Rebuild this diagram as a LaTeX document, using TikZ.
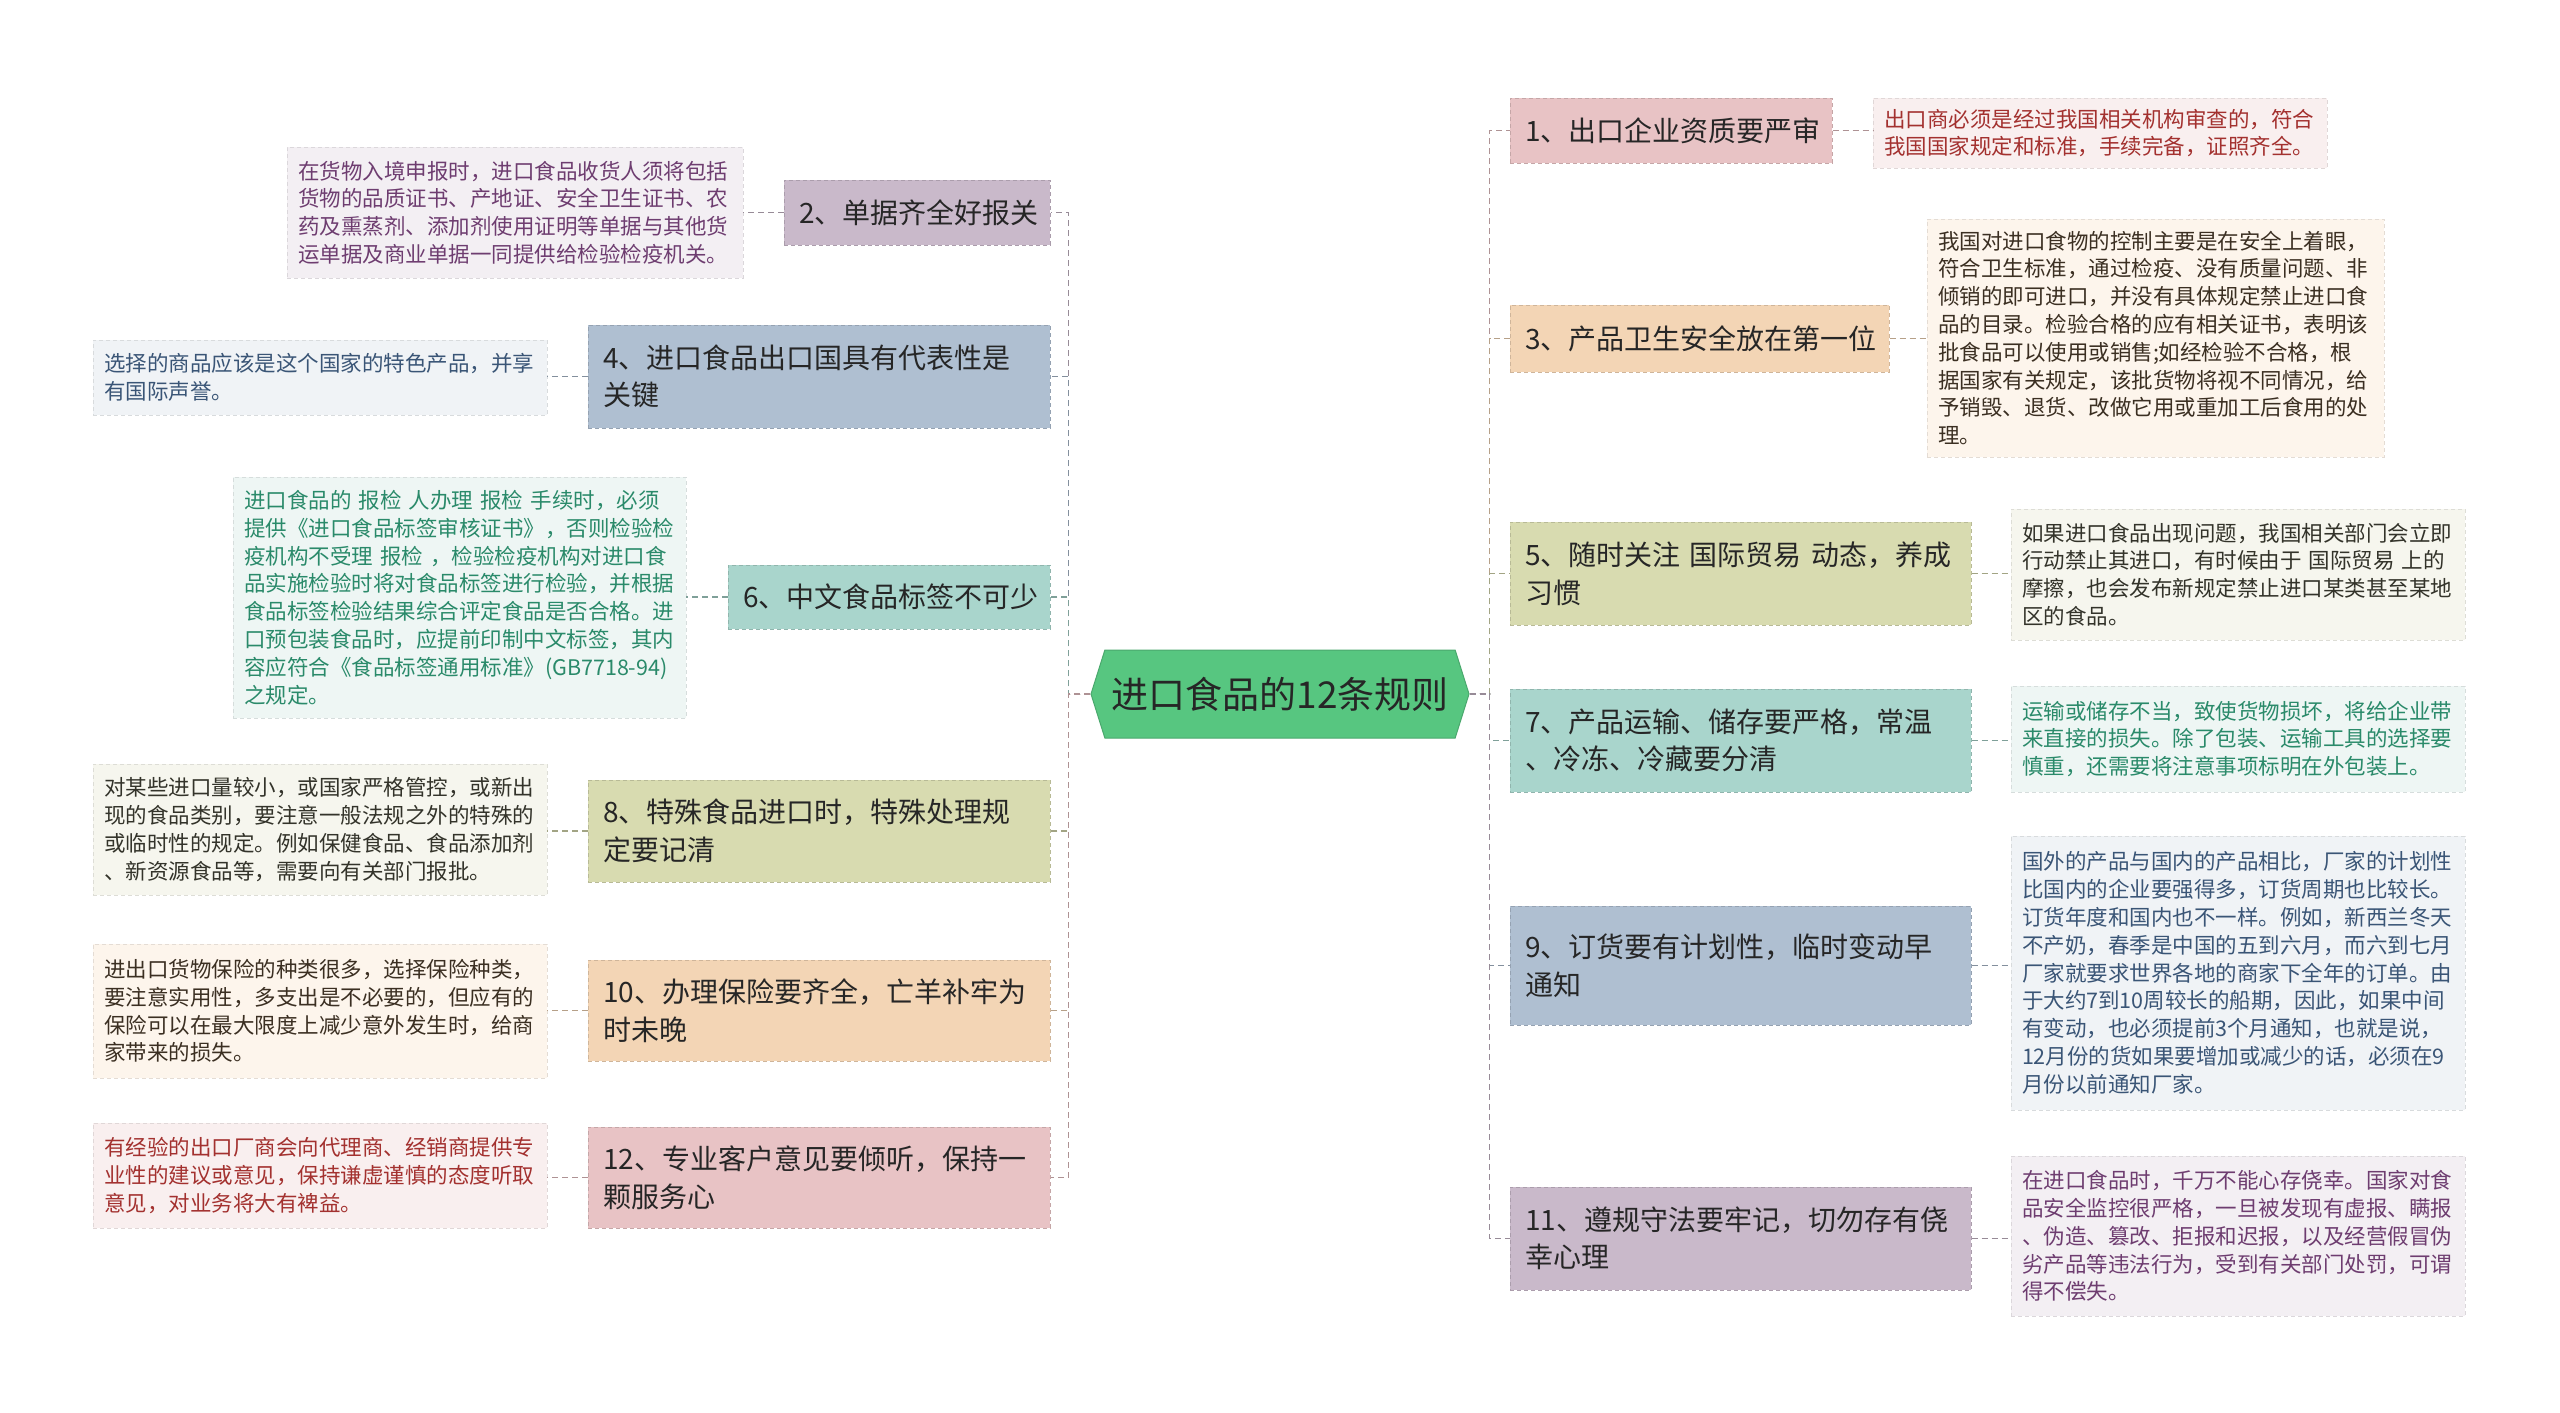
\documentclass[tikz,border=0pt]{standalone}
\usepackage{fontspec}
\setmainfont{Noto Sans CJK SC}
\usetikzlibrary{shapes.symbols}
\definecolor{cgreen}{HTML}{57C680}
\definecolor{fpink}{HTML}{E8C3C5}
\definecolor{fpeach}{HTML}{F3D5B5}
\definecolor{folive}{HTML}{D8DBB0}
\definecolor{fteal}{HTML}{A9D5CC}
\definecolor{fblue}{HTML}{AFBFD1}
\definecolor{fpurple}{HTML}{C9B9CA}
\definecolor{lpink}{HTML}{F9EFEF}
\definecolor{lpeach}{HTML}{FDF5EC}
\definecolor{lolive}{HTML}{F6F6EE}
\definecolor{lteal}{HTML}{EEF6F4}
\definecolor{lblue}{HTML}{F0F3F6}
\definecolor{lpurple}{HTML}{F3EFF3}
\definecolor{tpink}{HTML}{A3312F}
\definecolor{tpeach}{HTML}{3B2F22}
\definecolor{tolive}{HTML}{33332A}
\definecolor{tteal}{HTML}{2A8A6A}
\definecolor{tblue}{HTML}{3A5576}
\definecolor{tpurple}{HTML}{6E3D70}
\tikzset{
  topic/.style={rectangle, inner xsep=15pt, inner ysep=0pt, align=left,
    font=\fontsize{28}{37.5}\selectfont, text=black!85, line width=1pt,
    dash pattern=on 4pt off 3pt},
  detail/.style={rectangle, inner xsep=11pt, inner ysep=0pt, align=left,
    font=\fontsize{21.5}{27.8}\selectfont, line width=0.8pt,
    dash pattern=on 4pt off 3pt},
  link/.style={line width=1.8pt, dash pattern=on 6pt off 4pt},
  tp/.style={topic, fill=#1, draw=#1!85!black},
  dt/.style={detail, fill=l#1, draw=l#1!90!black, text=t#1},
}
\begin{document}
\begin{tikzpicture}[x=1pt,y=-1pt]
\useasboundingbox (0,0) rectangle (2560,1413);
\fill[white] (0,0) rectangle (2560,1413);

% central
\node[signal, signal to=west and east, signal pointer angle=145, fill=cgreen,
  draw=cgreen!85!black, line width=1pt, minimum width=378pt, minimum height=88pt,
  inner sep=0pt, font=\fontsize{37}{40}\selectfont, text=black!85] (c) at (1280,694) {进口食品的12条规则};

% left topics
\node[tp=fpurple, minimum width=266pt, minimum height=65pt, text width=236pt] (t2) at (917,212.5) {2、单据齐全好报关};
\node[tp=fblue, minimum width=462pt, minimum height=103pt, text width=432pt] (t4) at (819,376.5) {4、进口食品出口国具有代表性是\\关键};
\node[tp=fteal, minimum width=322pt, minimum height=64pt, text width=292pt] (t6) at (889,597) {6、中文食品标签不可少};
\node[tp=folive, minimum width=462pt, minimum height=102pt, text width=432pt] (t8) at (819,831) {8、特殊食品进口时，特殊处理规\\定要记清};
\node[tp=fpeach, minimum width=462pt, minimum height=101pt, text width=432pt] (t10) at (819,1010.5) {10、办理保险要齐全，亡羊补牢为\\时未晚};
\node[tp=fpink, minimum width=462pt, minimum height=101pt, text width=432pt] (t12) at (819,1177.5) {12、专业客户意见要倾听，保持一\\颗服务心};

% right topics
\node[tp=fpink, minimum width=322pt, minimum height=65pt, text width=292pt] (t1) at (1671,130.5) {1、出口企业资质要严审};
\node[tp=fpeach, minimum width=379pt, minimum height=67pt, text width=349pt] (t3) at (1699.5,338.5) {3、产品卫生安全放在第一位};
\node[tp=folive, minimum width=461pt, minimum height=103pt, text width=431pt] (t5) at (1740.5,573.5) {5、随时关注 国际贸易 动态，养成\\习惯};
\node[tp=fteal, minimum width=461pt, minimum height=103pt, text width=431pt] (t7) at (1740.5,740.5) {7、产品运输、储存要严格，常温\\、冷冻、冷藏要分清};
\node[tp=fblue, minimum width=461pt, minimum height=119pt, text width=431pt] (t9) at (1740.5,965.5) {\raisebox{-6pt}{\parbox[b]{431pt}{9、订货要有计划性，临时变动早\\通知}}};
\node[tp=fpurple, minimum width=461pt, minimum height=103pt, text width=431pt] (t11) at (1740.5,1238.5) {11、遵规守法要牢记，切勿存有侥\\幸心理};

% left details
\node[dt=purple, minimum width=456pt, minimum height=131pt, text width=434pt] (d2) at (515,212.5) {在货物入境申报时，进口食品收货人须将包括\\货物的品质证书、产地证、安全卫生证书、农\\药及熏蒸剂、添加剂使用证明等单据与其他货\\运单据及商业单据一同提供给检验检疫机关。};
\node[dt=blue, minimum width=454pt, minimum height=75pt, text width=432pt] (d4) at (320,377.5) {选择的商品应该是这个国家的特色产品，并享\\有国际声誉。};
\node[dt=teal, minimum width=453pt, minimum height=241pt, text width=431pt] (d6) at (459.5,597.5) {进口食品的 报检 人办理 报检 手续时，必须\\提供《进口食品标签审核证书》，否则检验检\\疫机构不受理 报检 ，检验检疫机构对进口食\\品实施检验时将对食品标签进行检验，并根据\\食品标签检验结果综合评定食品是否合格。进\\口预包装食品时，应提前印制中文标签，其内\\容应符合《食品标签通用标准》(GB7718-94)\\之规定。};
\node[dt=olive, minimum width=454pt, minimum height=131pt, text width=432pt] (d8) at (320,829.5) {对某些进口量较小，或国家严格管控，或新出\\现的食品类别，要注意一般法规之外的特殊的\\或临时性的规定。例如保健食品、食品添加剂\\、新资源食品等，需要向有关部门报批。};
\node[dt=peach, minimum width=454pt, minimum height=134pt, text width=432pt] (d10) at (320,1011) {进出口货物保险的种类很多，选择保险种类，\\要注意实用性，多支出是不必要的，但应有的\\保险可以在最大限度上减少意外发生时，给商\\家带来的损失。};
\node[dt=pink, minimum width=454pt, minimum height=105pt, text width=432pt] (d12) at (320,1175.5) {有经验的出口厂商会向代理商、经销商提供专\\业性的建议或意见，保持谦虚谨慎的态度听取\\意见，对业务将大有裨益。};

% right details
\node[dt=pink, minimum width=454pt, minimum height=70pt, text width=432pt] (d1) at (2100,133) {出口商必须是经过我国相关机构审查的，符合\\我国国家规定和标准，手续完备，证照齐全。};
\node[dt=peach, minimum width=457pt, minimum height=238pt, text width=435pt] (d3) at (2155.5,338) {我国对进口食物的控制主要是在安全上着眼，\\符合卫生标准，通过检疫、没有质量问题、非\\倾销的即可进口，并没有具体规定禁止进口食\\品的目录。检验合格的应有相关证书，表明该\\批食品可以使用或销售;如经检验不合格，根\\据国家有关规定，该批货物将视不同情况，给\\予销毁、退货、改做它用或重加工后食用的处\\理。};
\node[dt=olive, minimum width=454pt, minimum height=131pt, text width=432pt] (d5) at (2238,574.5) {如果进口食品出现问题，我国相关部门会立即\\行动禁止其进口，有时候由于 国际贸易 上的\\摩擦，也会发布新规定禁止进口某类甚至某地\\区的食品。};
\node[dt=teal, minimum width=454pt, minimum height=106pt, text width=432pt] (d7) at (2238,739) {运输或储存不当，致使货物损坏，将给企业带\\来直接的损失。除了包装、运输工具的选择要\\慎重，还需要将注意事项标明在外包装上。};
\node[dt=blue, minimum width=454pt, minimum height=274pt, text width=432pt] (d9) at (2238,973) {国外的产品与国内的产品相比，厂家的计划性\\比国内的企业要强得多，订货周期也比较长。\\订货年度和国内也不一样。例如，新西兰冬天\\不产奶，春季是中国的五到六月，而六到七月\\厂家就要求世界各地的商家下全年的订单。由\\于大约7到10周较长的船期，因此，如果中间\\有变动，也必须提前3个月通知，也就是说，\\12月份的货如果要增加或减少的话，必须在9\\月份以前通知厂家。};
\node[dt=purple, minimum width=454pt, minimum height=160pt, text width=432pt] (d11) at (2238,1236) {在进口食品时，千万不能心存侥幸。国家对食\\品安全监控很严格，一旦被发现有虚报、瞒报\\、伪造、篡改、拒报和迟报，以及经营假冒伪\\劣产品等违法行为，受到有关部门处罚，可谓\\得不偿失。};

% elbow connectors from centre
\draw[link, fpurple!75!black] (c.west) -- ++(-22,0) |- (t2.east);
\draw[link, fblue!75!black] (c.west) -- ++(-22,0) |- (t4.east);
\draw[link, fteal!75!black] (c.west) -- ++(-22,0) |- (t6.east);
\draw[link, folive!75!black] (c.west) -- ++(-22,0) |- (t8.east);
\draw[link, fpeach!75!black] (c.west) -- ++(-22,0) |- (t10.east);
\draw[link, fpink!75!black] (c.west) -- ++(-22,0) |- (t12.east);
\draw[link, fpink!75!black] (c.east) -- ++(20,0) |- (t1.west);
\draw[link, fpeach!75!black] (c.east) -- ++(20,0) |- (t3.west);
\draw[link, folive!75!black] (c.east) -- ++(20,0) |- (t5.west);
\draw[link, fteal!75!black] (c.east) -- ++(20,0) |- (t7.west);
\draw[link, fblue!75!black] (c.east) -- ++(20,0) |- (t9.west);
\draw[link, fpurple!75!black] (c.east) -- ++(20,0) |- (t11.west);

% topic to detail
\draw[link, fpurple!75!black] (t2.west) -- (t2.west -| d2.east);
\draw[link, fblue!75!black] (t4.west) -- (t4.west -| d4.east);
\draw[link, fteal!75!black] (t6.west) -- (t6.west -| d6.east);
\draw[link, folive!75!black] (t8.west) -- (t8.west -| d8.east);
\draw[link, fpeach!75!black] (t10.west) -- (t10.west -| d10.east);
\draw[link, fpink!75!black] (t12.west) -- (t12.west -| d12.east);
\draw[link, fpink!75!black] (t1.east) -- (t1.east -| d1.west);
\draw[link, fpeach!75!black] (t3.east) -- (t3.east -| d3.west);
\draw[link, folive!75!black] (t5.east) -- (t5.east -| d5.west);
\draw[link, fteal!75!black] (t7.east) -- (t7.east -| d7.west);
\draw[link, fblue!75!black] (t9.east) -- (t9.east -| d9.west);
\draw[link, fpurple!75!black] (t11.east) -- (t11.east -| d11.west);
\end{tikzpicture}
\end{document}
